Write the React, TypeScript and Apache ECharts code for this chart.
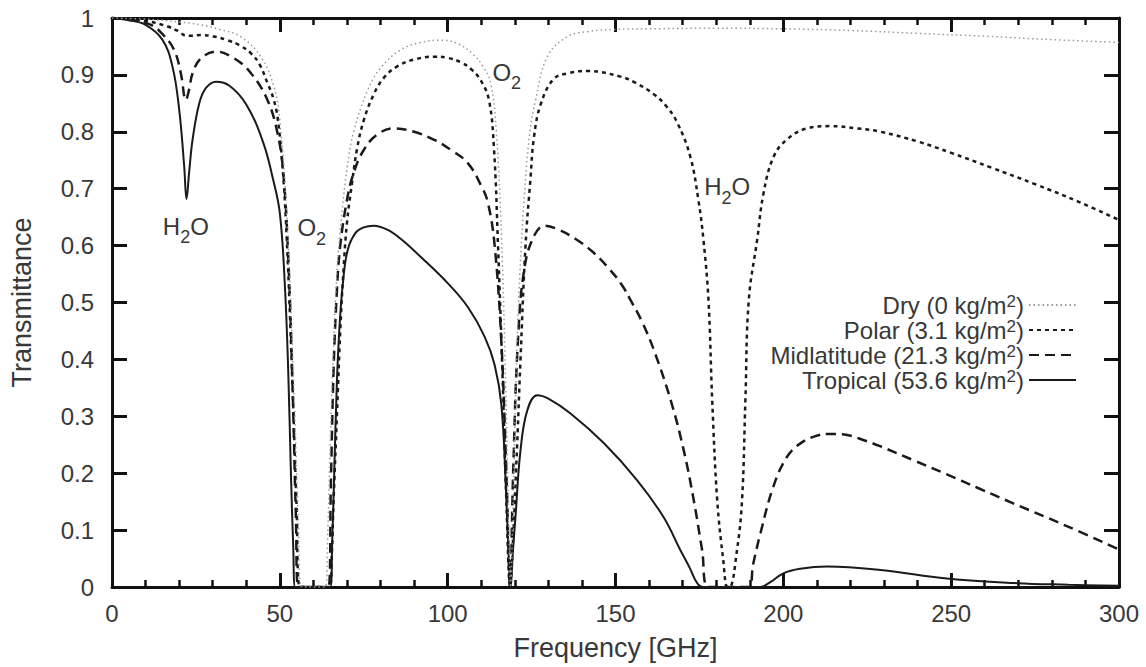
import React, { useEffect, useRef } from "react";
import * as echarts from "echarts";

// ---- data (frequency in GHz, transmittance) ----
const dryFreq = [0, 10, 20, 26.5, 32, 38.4, 44.3, 48.2, 50, 52, 54, 55.5, 56.5, 60, 63.5, 64.3, 65, 66, 67, 68.2, 70.1, 72, 76.1, 80, 86, 92, 97.9, 103, 107.8, 110.5, 112.8, 114.5, 116, 117.3, 118.3, 118.75, 119.3, 120.3, 121.5, 123, 124.5, 126.2, 129.7, 135.6, 141.6, 150, 160, 180, 200, 220, 240, 260, 280, 300];
const dryVals = [1, 0.998, 0.993, 0.988, 0.98, 0.967, 0.932, 0.88, 0.82, 0.66, 0.38, 0.12, 0, 0, 0, 0.1, 0.25, 0.42, 0.55, 0.64, 0.739, 0.8, 0.872, 0.912, 0.944, 0.957, 0.961, 0.955, 0.935, 0.915, 0.886, 0.8, 0.62, 0.35, 0.08, 0, 0.1, 0.35, 0.55, 0.7, 0.8, 0.856, 0.932, 0.967, 0.976, 0.98, 0.981, 0.982, 0.981, 0.978, 0.973, 0.968, 0.962, 0.957];

const polarFreq = [0, 10, 16.6, 20, 22, 24, 26.5, 30, 34.4, 38, 41.4, 44, 46.3, 48, 49.3, 50.8, 52, 53.5, 55, 56, 60, 64.8, 65.5, 66, 67, 68, 69, 70, 71.5, 73, 75, 78, 81, 85, 90, 96, 100, 104, 107, 109.8, 112.3, 113.8, 115, 116.3, 117.5, 118.6, 119.6, 120.7, 121.7, 123.2, 124.7, 125.7, 127.7, 131.6, 136, 141.6, 151.5, 156, 161.4, 165, 168.4, 172.3, 174.7, 176.2, 177.7, 178.8, 180.3, 182.1, 183.3, 184, 186.2, 187.7, 188.7, 189.7, 192.2, 194.1, 197.1, 201, 207, 214, 222, 229, 240, 250, 262, 275, 288, 300];
const polarVals = [1, 0.995, 0.985, 0.976, 0.969, 0.969, 0.97, 0.968, 0.961, 0.952, 0.938, 0.918, 0.886, 0.86, 0.826, 0.739, 0.62, 0.4, 0.14, 0, 0, 0, 0.06, 0.15, 0.3, 0.45, 0.56, 0.64, 0.71, 0.77, 0.82, 0.866, 0.895, 0.915, 0.927, 0.932, 0.93, 0.922, 0.91, 0.891, 0.856, 0.77, 0.6, 0.38, 0.15, 0, 0.1, 0.25, 0.4, 0.6, 0.72, 0.79, 0.848, 0.893, 0.903, 0.907, 0.897, 0.886, 0.866, 0.846, 0.816, 0.756, 0.68, 0.61, 0.504, 0.33, 0.153, 0.047, 0, 0, 0.065, 0.153, 0.329, 0.504, 0.61, 0.692, 0.756, 0.786, 0.806, 0.81, 0.806, 0.8, 0.783, 0.763, 0.737, 0.708, 0.677, 0.645];

const midFreq = [0, 5, 11.6, 15, 18.5, 20.5, 22, 23, 24, 26.5, 31, 36.4, 41.4, 46.3, 49.3, 51, 52.5, 53.8, 54.8, 55.5, 60, 64.5, 65.2, 66, 67, 68, 70, 72, 75, 79, 84, 90, 96, 101, 106, 110, 112, 114, 116, 117.5, 118.6, 119.5, 121, 123, 126, 129, 133, 138, 143, 148, 152, 154.5, 158, 161.4, 166.4, 170.3, 173.3, 175.8, 177.7, 189.6, 191, 193.2, 197, 201, 205, 210, 214, 219, 224, 229, 238.7, 248.7, 258, 268.5, 283.3, 300];
const midVals = [1, 0.998, 0.988, 0.972, 0.944, 0.903, 0.856, 0.875, 0.903, 0.929, 0.941, 0.929, 0.903, 0.856, 0.798, 0.73, 0.58, 0.35, 0.12, 0, 0, 0, 0.18, 0.38, 0.52, 0.6, 0.68, 0.728, 0.768, 0.795, 0.806, 0.8, 0.786, 0.768, 0.745, 0.705, 0.675, 0.6, 0.43, 0.2, 0, 0.2, 0.44, 0.565, 0.62, 0.635, 0.628, 0.612, 0.59, 0.56, 0.53, 0.504, 0.465, 0.417, 0.329, 0.241, 0.153, 0.065, 0, 0, 0.04, 0.095, 0.176, 0.228, 0.252, 0.266, 0.269, 0.267, 0.258, 0.247, 0.223, 0.198, 0.174, 0.147, 0.11, 0.066];

const tropFreq = [0, 5, 10, 15, 18, 20, 21.5, 22.2, 23, 24, 26, 28, 31, 35, 40, 45, 48, 50, 51.5, 52.5, 53.3, 54, 54.6, 60, 65, 65.6, 66.2, 67, 67.8, 68.8, 70.2, 72.5, 75, 78, 82, 86, 92, 100, 106, 111, 114, 116, 117.3, 118.2, 118.75, 119.4, 120.2, 121.7, 123.7, 126.7, 130, 136.6, 146.5, 156.4, 164.3, 169.3, 172, 174.3, 176, 185, 193, 196, 200, 205, 213, 229, 248.7, 268.5, 285, 300];
const tropVals = [1, 0.996, 0.988, 0.962, 0.915, 0.84, 0.74, 0.682, 0.73, 0.786, 0.85, 0.877, 0.888, 0.881, 0.848, 0.782, 0.716, 0.657, 0.53, 0.38, 0.2, 0.07, 0, 0, 0, 0.08, 0.2, 0.36, 0.46, 0.535, 0.592, 0.622, 0.632, 0.635, 0.628, 0.612, 0.58, 0.534, 0.492, 0.44, 0.39, 0.32, 0.18, 0.05, 0, 0.06, 0.123, 0.24, 0.31, 0.337, 0.331, 0.305, 0.253, 0.188, 0.123, 0.065, 0.035, 0.007, 0, 0, 0, 0.008, 0.024, 0.032, 0.036, 0.03, 0.015, 0.007, 0.004, 0.002];

const seriesNames = ["Dry", "Polar", "Midlatitude", "Tropical"];
const legendLabels = ["Dry (0 kg/m", "Polar (3.1 kg/m", "Midlatitude (21.3 kg/m", "Tropical (53.6 kg/m"];

// annotation labels: [molecule head, subscript, tail], anchor [freq, transmittance]
const annotations = [
  { head: "H", sub: "2", tail: "O", at: [22.0, 0.634] },
  { head: "O", sub: "2", tail: "", at: [59.5, 0.631] },
  { head: "O", sub: "2", tail: "", at: [117.6, 0.905] },
  { head: "H", sub: "2", tail: "O", at: [183.3, 0.703] },
];

const FONT = "'Liberation Sans', Arial, sans-serif";
const TXT = "#383838";
const AX = "#111";

const pairs = (f: number[], v: number[]) => f.map((x, i) => [x, v[i]]);

export default function App() {
  const ref = useRef<HTMLDivElement>(null);
  useEffect(() => {
    document.body.style.margin = "0";
    if (!ref.current) return;
    const chart = echarts.init(ref.current, undefined, { renderer: "svg" });

    const axisCommonX = {
      type: "value" as const,
      min: 0,
      max: 300,
      interval: 50,
      splitLine: { show: false },
      axisLine: { show: true, onZero: false, lineStyle: { color: AX, width: 3 } },
      axisTick: { show: true, inside: true, length: 14, lineStyle: { color: AX, width: 3 } },
      minorTick: { show: true, splitNumber: 5, length: 7, lineStyle: { color: AX, width: 2.5 } },
    };
    const axisCommonY = {
      type: "value" as const,
      min: 0,
      max: 1,
      interval: 0.1,
      splitLine: { show: false },
      axisLine: { show: true, onZero: false, lineStyle: { color: AX, width: 3 } },
      axisTick: { show: true, inside: true, length: 15, lineStyle: { color: AX, width: 3 } },
    };

    const styles: any[] = [
      { color: "#9a9a9a", width: 1.5, type: [1.5, 3] },
      { color: "#1a1a1a", width: 2.5, type: [4, 4] },
      { color: "#1a1a1a", width: 2.5, type: [10, 6] },
      { color: "#1a1a1a", width: 2, type: "solid" },
    ];
    const datas = [pairs(dryFreq, dryVals), pairs(polarFreq, polarVals), pairs(midFreq, midVals), pairs(tropFreq, tropVals)];

    chart.setOption({
      animation: false,
      backgroundColor: "#fff",
      grid: { left: 111, right: 27, top: 18, bottom: 80 },
      xAxis: [
        {
          ...axisCommonX,
          position: "bottom",
          name: "Frequency [GHz]",
          nameLocation: "middle",
          nameGap: 47,
          nameTextStyle: { color: TXT, fontSize: 27, fontFamily: FONT },
          axisLabel: { color: TXT, fontSize: 24, fontFamily: FONT, margin: 14 },
        },
        { ...axisCommonX, position: "top", axisLabel: { show: false } },
      ],
      yAxis: [
        {
          ...axisCommonY,
          position: "left",
          name: "Transmittance",
          nameLocation: "middle",
          nameRotate: 90,
          nameGap: 77,
          nameTextStyle: { color: TXT, fontSize: 27, fontFamily: FONT },
          axisLabel: { color: TXT, fontSize: 24, fontFamily: FONT, margin: 18 },
        },
        { ...axisCommonY, position: "right", axisLabel: { show: false } },
      ],
      legend: {
        orient: "vertical",
        right: 64,
        top: 288,
        align: "right",
        itemWidth: 47,
        itemHeight: 14,
        itemGap: 1,
        selectedMode: false,
        data: seriesNames,
        itemStyle: { opacity: 0, borderWidth: 0 },
        formatter: (name: string) => {
          const i = seriesNames.indexOf(name);
          return `{t|${legendLabels[i]}}{s|2}{t|)}`;
        },
        textStyle: {
          color: TXT,
          fontFamily: FONT,
          fontSize: 24,
          rich: {
            t: { fontSize: 24, lineHeight: 24, fontFamily: FONT, color: TXT, verticalAlign: "top" },
            s: { fontSize: 17, lineHeight: 17, fontFamily: FONT, color: TXT, verticalAlign: "top" },
          },
        },
      },
      series: seriesNames.map((n, i) => ({
        name: n,
        type: "line",
        xAxisIndex: 0,
        yAxisIndex: 0,
        data: datas[i],
        showSymbol: false,
        symbol: "none",
        smooth: 0.4,
        lineStyle: styles[i],
        itemStyle: { color: styles[i].color },
        z: 10 - i,
      })),
    });

    const graphics = annotations.map((a) => {
      const p = chart.convertToPixel({ xAxisIndex: 0, yAxisIndex: 0 }, a.at) as number[];
      return {
        type: "text",
        x: p[0],
        y: p[1],
        z: 100,
        style: {
          text: a.tail ? `{t|${a.head}}{s|${a.sub}}{t|${a.tail}}` : `{t|${a.head}}{s|${a.sub}}`,
          align: "center",
          verticalAlign: "middle",
          fill: TXT,
          font: `24px ${FONT}`,
          rich: {
            t: { fontSize: 24, lineHeight: 24, fontFamily: FONT, fill: TXT, verticalAlign: "top" },
            s: { fontSize: 18, lineHeight: 18, fontFamily: FONT, fill: TXT, verticalAlign: "top", padding: [14, 0, 0, 0] },
          },
        },
      };
    });
    chart.setOption({ graphic: graphics });

    return () => chart.dispose();
  }, []);
  return <div ref={ref} style={{ width: 1146, height: 667 }} />;
}
